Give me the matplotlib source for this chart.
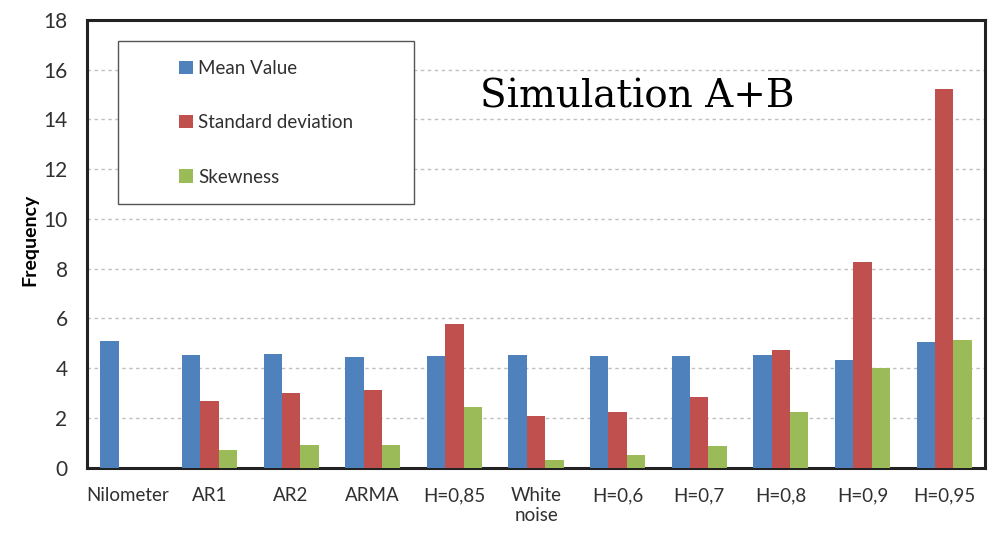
import matplotlib.pyplot as plt
from matplotlib.patches import Rectangle
import numpy as np

categories = ["Nilometer", "AR1", "AR2", "ARMA", "H=0,85", "White\nnoise",
              "H=0,6", "H=0,7", "H=0,8", "H=0,9", "H=0,95"]
mean_value = [5.08, 4.55, 4.59, 4.45, 4.51, 4.54, 4.49, 4.49, 4.55, 4.33, 5.06]
std_dev = [0.0, 2.68, 3.02, 3.11, 5.77, 2.08, 2.25, 2.84, 4.74, 8.28, 15.24]
skewness = [0.0, 0.71, 0.91, 0.91, 2.44, 0.31, 0.51, 0.87, 2.25, 4.0, 5.14]

plt.rcParams['font.family'] = ['Lato', 'DejaVu Sans']

fig = plt.figure(figsize=(10, 5.35), dpi=100)
ax = fig.add_axes([0.087, 0.1258, 0.898, 0.8368])

x = np.arange(len(categories))
w = 0.225
ax.bar(x - w, mean_value, w, color="#4f81bd", label="Mean Value", zorder=3)
ax.bar(x, std_dev, w, color="#c0504d", label="Standard deviation", zorder=3)
ax.bar(x + w, skewness, w, color="#9bbb59", label="Skewness", zorder=3)

ax.set_xlim(-0.5, len(categories) - 0.5)
ax.set_ylim(0, 18)
ax.set_yticks(range(0, 19, 2))
ax.set_xticks(x)
ax.set_xticklabels(categories, fontsize=13.5, color="#303030")
ax.tick_params(axis="y", labelsize=15, labelcolor="#303030", length=0, pad=14)
ax.tick_params(axis="x", length=0, pad=14)
ax.yaxis.grid(True, linestyle=(0, (2.5, 2.5)), color="#c0c0c0", linewidth=1, zorder=0)
for s in ax.spines.values():
    s.set_linewidth(2.2)
    s.set_color("#222222")

ax.set_ylabel("Frequency", fontsize=14, fontweight="bold")
ax.yaxis.set_label_coords(-0.054, 0.51)

# legend frame drawn separately so its size matches the original
ax.add_patch(Rectangle((0.0345, 0.589), 0.33, 0.364, transform=ax.transAxes,
                       facecolor="white", edgecolor="#555555", linewidth=1, zorder=4))
leg = ax.legend(loc="upper left", bbox_to_anchor=(0.103, 0.91), fontsize=13.5,
                frameon=False, handlelength=0.7, handleheight=0.7,
                labelspacing=1.98, borderpad=0, handletextpad=0.3,
                borderaxespad=0)
leg.set_zorder(5)
for t in leg.get_texts():
    t.set_color("#303030")

ax.text(0.438, 0.805, "Simulation A+B", transform=ax.transAxes, fontsize=28,
        family="DejaVu Serif", va="baseline", color="black", zorder=5)

fig.savefig("out.png", dpi=100)
